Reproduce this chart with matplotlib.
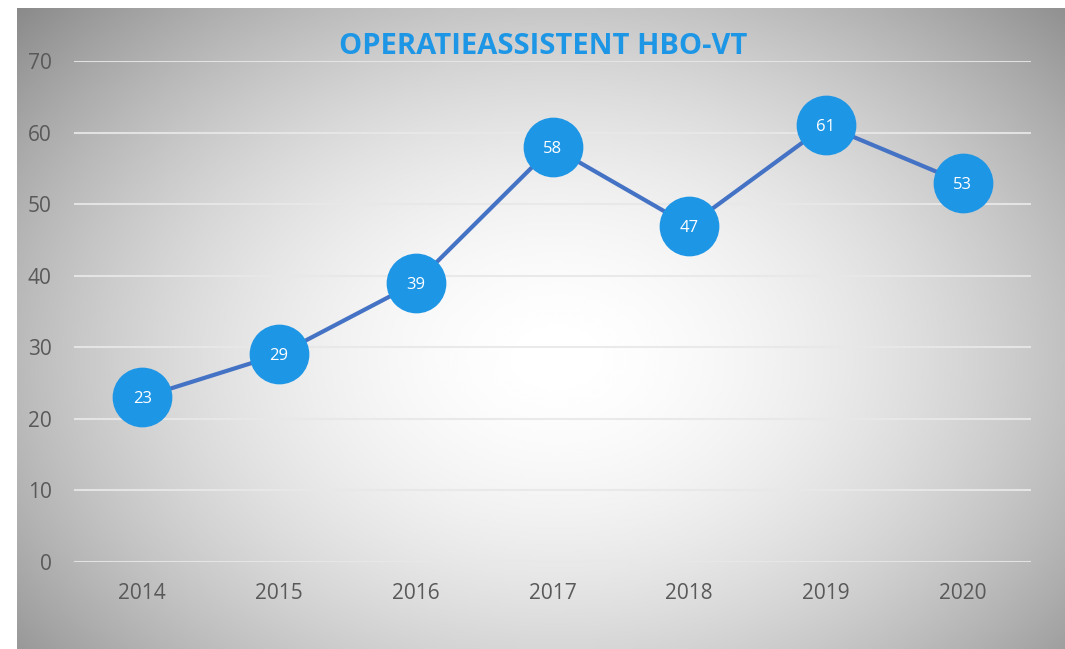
import numpy as np
import matplotlib
matplotlib.use("Agg")
import matplotlib.pyplot as plt

# data
years = ["2014", "2015", "2016", "2017", "2018", "2019", "2020"]
values = [23, 29, 39, 58, 47, 61, 53]
y_ticks = [0, 10, 20, 30, 40, 50, 60, 70]

plt.rcParams['font.family'] = ['Open Sans', 'DejaVu Sans']

W, H = 1065, 649
fig = plt.figure(figsize=(W / 100, H / 100), dpi=100)
fig.patch.set_facecolor("white")

# radial grey background behind the chart
bg = fig.add_axes([17 / W, 0, 1 - 17 / W, 1 - 8 / H])
bg.set_axis_off()
gx, gy = np.meshgrid(np.linspace(0, 1048, 400), np.linspace(0, 641, 250))
r = np.sqrt(((gx - 540) / 690) ** 2 + ((gy - 350) / 500) ** 2)
shade = 1 - 0.42 * np.clip(r, 0, 1.2) ** 1.8
bg.imshow(shade, cmap="gray", vmin=0, vmax=1, aspect="auto",
          extent=[0, 1, 0, 1], interpolation="bicubic")
bg.set_xlim(0, 1)
bg.set_ylim(0, 1)

ax = fig.add_axes([74 / W, (H - 562) / H, 957 / W, 501 / H])
ax.patch.set_alpha(0)
x = np.arange(len(years))
ax.plot(x, values, color="#4472C4", lw=3, zorder=3, solid_capstyle="round")
ax.plot(x, values, "o", ms=42, mfc="#1E96E6", mec="#1E96E6", zorder=4)
for xi, v in zip(x, values):
    ax.text(xi, v, str(v), ha="center", va="center_baseline", color="white",
            fontsize=12, zorder=5)

ax.set_xlim(-0.5, len(years) - 0.5)
ax.set_ylim(0, 70)
ax.set_xticks(x)
ax.set_xticklabels(years)
ax.set_yticks(y_ticks)
ax.tick_params(length=0, labelsize=15, labelcolor="#595959")
ax.tick_params(axis="x", pad=15)
ax.tick_params(axis="y", pad=16)
ax.grid(axis="y", color="#E8E8E8", lw=1.5, alpha=0.9)
ax.set_axisbelow(True)
for s in ax.spines.values():
    s.set_visible(False)

fig.text(543 / W, 1 - 47 / H, "OPERATIEASSISTENT HBO-VT", ha="center",
         va="center", fontsize=21, fontweight="bold", color="#1E96E6")

fig.savefig("out.png", dpi=100)
